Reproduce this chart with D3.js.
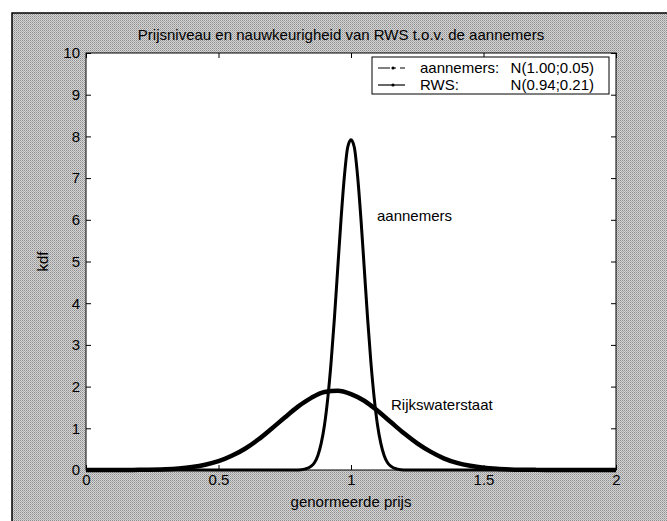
<!DOCTYPE html>
<html>
<head>
<meta charset="utf-8">
<script src="https://cdn.jsdelivr.net/npm/d3@7"></script>
<style>
  body { margin: 0; background: #fff; }
  svg { display: block; font-family: "Liberation Sans", Arial, sans-serif; }
</style>
</head>
<body>
<svg id="chart"></svg>
<script>
// values
const xTicks = [0, 0.5, 1, 1.5, 2];
const yTicks = [0, 1, 2, 3, 4, 5, 6, 7, 8, 9, 10];

const aannemersX = [0, 0.5, 0.8, 0.825, 0.85, 0.8625, 0.875, 0.8875, 0.9, 0.9125, 0.925, 0.9375, 0.95, 0.9625, 0.975, 0.9875, 1.0,
  1.0125, 1.025, 1.0375, 1.05, 1.0625, 1.075, 1.0875, 1.1, 1.1125, 1.125, 1.1375, 1.15, 1.175, 1.2, 1.5, 2.0];
const aannemersY = [0, 0, 0, 0.02, 0.09, 0.18, 0.35, 0.64, 1.08, 1.73, 2.59, 3.65, 4.84, 6.02, 7.04, 7.74, 7.92,
  7.74, 7.04, 6.02, 4.84, 3.65, 2.59, 1.73, 1.08, 0.64, 0.35, 0.18, 0.09, 0.02, 0, 0, 0];

const rwsX = [0, 0.1, 0.2, 0.3, 0.35, 0.4, 0.45, 0.5, 0.55, 0.6, 0.65, 0.7, 0.75, 0.8, 0.85, 0.9, 0.95, 1.0,
  1.05, 1.1, 1.15, 1.2, 1.25, 1.3, 1.35, 1.4, 1.45, 1.5, 1.55, 1.6, 1.7, 1.8, 1.9, 2.0];
const rwsY = [0, 0, 0.004, 0.018, 0.037, 0.07, 0.125, 0.21, 0.34, 0.51, 0.73, 0.99, 1.26, 1.52, 1.73, 1.87, 1.9, 1.82,
  1.66, 1.42, 1.15, 0.88, 0.64, 0.44, 0.28, 0.17, 0.1, 0.054, 0.028, 0.014, 0.003, 0, 0, 0];

const legendLabels = ["aannemers:", "RWS:"];
const legendDists = ["N(1.00;0.05)", "N(0.94;0.21)"];

const width = 667, height = 521;
const plot = { left: 86, right: 616, top: 53, bottom: 470 };

let svg = d3.select("#chart").attr("width", width).attr("height", height);

// halftone-ish grey of the scanned figure window
let pat = svg.append("defs").append("pattern")
  .attr("id", "dither").attr("width", 2).attr("height", 2)
  .attr("patternUnits", "userSpaceOnUse");
pat.append("rect").attr("width", 2).attr("height", 2).attr("fill", "#d4d4d4");
pat.append("rect").attr("width", 1).attr("height", 1).attr("fill", "#8e8e8e");
pat.append("rect").attr("x", 1).attr("y", 1).attr("width", 1).attr("height", 1).attr("fill", "#ababab");

svg.append("rect")
  .attr("x", 12).attr("y", 13).attr("width", width).attr("height", height)
  .attr("fill", "url(#dither)")
  .attr("stroke", "#000").attr("stroke-width", 1.5);

let x = d3.scaleLinear().domain([0, 2]).range([plot.left, plot.right]);
let y = d3.scaleLinear().domain([0, 10]).range([plot.bottom, plot.top]);

svg.append("rect")
  .attr("x", plot.left).attr("y", plot.top)
  .attr("width", plot.right - plot.left).attr("height", plot.bottom - plot.top)
  .attr("fill", "#fff").attr("stroke", "#000").attr("stroke-width", 1);

// axes, ticks pointing inwards on all four sides (matlab box)
let fontSize = "15px";
let bottomAxis = svg.append("g").attr("transform", "translate(0," + plot.bottom + ")")
  .call(d3.axisBottom(x).tickValues(xTicks).tickSizeInner(-5).tickSizeOuter(0).tickPadding(4).tickFormat(d3.format("")));
let topAxis = svg.append("g").attr("transform", "translate(0," + plot.top + ")")
  .call(d3.axisTop(x).tickValues(xTicks).tickSizeInner(-5).tickSizeOuter(0).tickFormat(""));
let leftAxis = svg.append("g").attr("transform", "translate(" + plot.left + ",0)")
  .call(d3.axisLeft(y).tickValues(yTicks).tickSizeInner(-5).tickSizeOuter(0).tickPadding(6));
let rightAxis = svg.append("g").attr("transform", "translate(" + plot.right + ",0)")
  .call(d3.axisRight(y).tickValues(yTicks).tickSizeInner(-5).tickSizeOuter(0).tickFormat(""));

[bottomAxis, topAxis, leftAxis, rightAxis].forEach(function (g) {
  g.select(".domain").remove();
  g.selectAll("line").attr("stroke", "#000");
  g.selectAll("text").attr("fill", "#000").style("font-size", fontSize).style("font-family", null);
});

// curves
let line = d3.line()
  .x(function (d) { return x(d[0]); })
  .y(function (d) { return y(d[1]); })
  .curve(d3.curveMonotoneX);

svg.append("path")
  .datum(d3.zip(rwsX, rwsY))
  .attr("d", line)
  .attr("fill", "none").attr("stroke", "#000").attr("stroke-width", 4.5)
  .attr("stroke-linejoin", "round");

svg.append("path")
  .datum(d3.zip(aannemersX, aannemersY))
  .attr("d", line)
  .attr("fill", "none").attr("stroke", "#000").attr("stroke-width", 3)
  .attr("stroke-linejoin", "round");

// labels on the curves
svg.append("text").attr("x", 377).attr("y", 221).style("font-size", fontSize).text("aannemers");
svg.append("text").attr("x", 391).attr("y", 410).style("font-size", fontSize).text("Rijkswaterstaat");

// title and axis labels
svg.append("text")
  .attr("x", 341).attr("y", 40).attr("text-anchor", "middle")
  .style("font-size", fontSize)
  .text("Prijsniveau en nauwkeurigheid van RWS t.o.v. de aannemers");

svg.append("text")
  .attr("x", (plot.left + plot.right) / 2).attr("y", 507).attr("text-anchor", "middle")
  .style("font-size", fontSize)
  .text("genormeerde prijs");

svg.append("text")
  .attr("transform", "translate(48," + ((plot.top + plot.bottom) / 2) + ") rotate(-90)")
  .attr("text-anchor", "middle")
  .style("font-size", fontSize)
  .text("kdf");

// legend
let legend = svg.append("g").attr("transform", "translate(372,57)");
legend.append("rect")
  .attr("width", 237).attr("height", 37)
  .attr("fill", "#fff").attr("stroke", "#000").attr("stroke-width", 1);

let rows = legend.selectAll("g.row")
  .data(legendLabels)
  .enter().append("g")
  .attr("class", "row")
  .attr("transform", function (d, i) { return "translate(0," + (11 + i * 17) + ")"; });

rows.append("line")
  .attr("x1", 6).attr("x2", 33)
  .attr("stroke", "#000").attr("stroke-width", 1.2)
  .attr("stroke-dasharray", function (d, i) { return i == 0 ? "12,4,2,4,5" : null; });
rows.append("circle").attr("cx", 21).attr("r", 1.6).attr("fill", "#000");
rows.append("text")
  .attr("x", 48).attr("dy", "0.35em")
  .style("font-size", fontSize)
  .text(function (d) { return d; });
rows.append("text")
  .attr("x", 222).attr("dy", "0.35em").attr("text-anchor", "end")
  .style("font-size", fontSize)
  .text(function (d, i) { return legendDists[i]; });
</script>
</body>
</html>
